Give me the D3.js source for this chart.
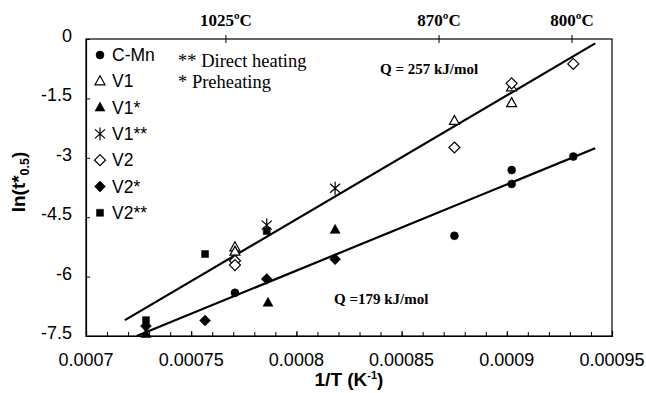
<!DOCTYPE html>
<html>
  <head>
    <meta charset="utf-8">
    <script src="https://d3js.org/d3.v7.min.js"></script>
    <style>
      body { margin: 0; background: #fff; }
      svg { display: block; }
      .domain { stroke: #000; stroke-width: 1.2; }
      .tick line { stroke: #000; stroke-width: 1; }
      .tick-label { fill: #000; font-size: 18px; font-family: "Liberation Sans", Arial, sans-serif; }
      .axis-label { fill: #000; font-size: 19px; font-weight: bold; font-family: "Liberation Sans", Arial, sans-serif; }
      .serif { fill: #000; font-family: "Liberation Serif", "Times New Roman", serif; }
      .legend text { font-size: 17.5px; font-family: "Liberation Sans", Arial, sans-serif; }
    </style>
  </head>
  <body>
    <svg width="646" height="393"></svg>
    <script>
      // data: [1/T, ln(t*0.5)]
      const cMn  = [[0.0007708, -6.41], [0.0008751, -4.97], [0.0009023, -3.31], [0.0009023, -3.66], [0.0009316, -2.97]];
      const v1   = [[0.0007708, -5.26], [0.0007708, -5.37], [0.0008751, -2.07], [0.0009023, -1.22], [0.0009023, -1.62]];
      const v1s  = [[0.0007285, -7.45], [0.0007865, -6.66], [0.0008184, -4.82]];
      const v1ss = [[0.0007859, -4.70], [0.0008184, -3.77]];
      const v2   = [[0.0007708, -5.60], [0.0007708, -5.71], [0.0008751, -2.74], [0.0009023, -1.12], [0.0009316, -0.63]];
      const v2s  = [[0.0007285, -7.25], [0.0007566, -7.11], [0.0007859, -6.06], [0.0008184, -5.56]];
      const v2ss = [[0.0007285, -7.10], [0.0007566, -5.43], [0.0007859, -4.85]];

      // fitted lines (end points)
      const fitUpper = [[0.0007185, -7.10], [0.000942, -0.11]];
      const fitLower = [[0.0007241, -7.50], [0.000942, -2.76]];

      const yTicks = [0, -1.5, -3, -4.5, -6, -7.5];
      const xTicks = [0.0007, 0.00075, 0.0008, 0.00085, 0.0009, 0.00095];
      const topTickVals = [0.0007665, 0.0008678, 0.000931];
      const topTickLabels = ['1025ºC', '870ºC', '800ºC'];

      const series = [
        { name: 'C-Mn', data: cMn, shape: 'circle', filled: true },
        { name: 'V1', data: v1, shape: 'triangle', filled: false },
        { name: 'V1*', data: v1s, shape: 'triangle', filled: true },
        { name: 'V1**', data: v1ss, shape: 'asterisk', filled: false },
        { name: 'V2', data: v2, shape: 'diamond', filled: false },
        { name: 'V2*', data: v2s, shape: 'diamond', filled: true },
        { name: 'V2**', data: v2ss, shape: 'square', filled: true }
      ];

      const margin = { left: 86, right: 34, top: 39, bottom: 57 };
      const svg = d3.select('svg');
      const width = +svg.attr('width');
      const height = +svg.attr('height');
      const innerWidth = width - margin.left - margin.right;
      const innerHeight = height - margin.top - margin.bottom;

      const xScale = d3.scaleLinear().domain([0.0007, 0.00095]).range([0, innerWidth]);
      const yScale = d3.scaleLinear().domain([-7.5, 0]).range([innerHeight, 0]);

      const g = svg.append('g')
          .attr('transform', `translate(${margin.left},${margin.top})`);

      // marker shapes, drawn around 0,0
      function markerPath(shape) {
        const p = d3.path();
        if (shape === 'circle') {
          p.arc(0, 0, 4, 0, 2 * Math.PI);
        } else if (shape === 'triangle') {
          p.moveTo(0, -5.5); p.lineTo(5, 3.5); p.lineTo(-5, 3.5); p.closePath();
        } else if (shape === 'diamond') {
          p.moveTo(0, -5.5); p.lineTo(5.5, 0); p.lineTo(0, 5.5); p.lineTo(-5.5, 0); p.closePath();
        } else if (shape === 'square') {
          p.rect(-3.5, -3.5, 7, 7);
        } else if (shape === 'asterisk') {
          p.moveTo(0, -6.5); p.lineTo(0, 6.5);
          p.moveTo(-5, -4.5); p.lineTo(5, 4.5);
          p.moveTo(-5, 4.5); p.lineTo(5, -4.5);
        }
        return p.toString();
      }
      function styleMarker(sel, s) {
        sel.attr('d', markerPath(s.shape))
          .attr('fill', s.shape === 'asterisk' ? 'none' : (s.filled ? '#000' : '#fff'))
          .attr('stroke', '#000')
          .attr('stroke-width', s.filled ? 0.5 : 1.2);
      }

      // frame
      g.append('rect')
          .attr('width', innerWidth)
          .attr('height', innerHeight)
          .attr('fill', 'none')
          .attr('stroke', '#000')
          .attr('stroke-width', 1.2);

      // bottom axis: minor ticks, major ticks
      g.append('g')
          .attr('transform', `translate(0,${innerHeight})`)
          .call(d3.axisBottom(xScale).ticks(25).tickSize(-4).tickFormat(''))
          .call(a => a.select('.domain').remove())
          .call(a => a.selectAll('.tick text').remove());
      g.append('g')
          .attr('transform', `translate(0,${innerHeight})`)
          .call(d3.axisBottom(xScale).tickValues(xTicks).tickSize(-5).tickFormat(''))
          .call(a => a.selectAll('.tick text').remove());

      // left axis
      g.append('g')
          .call(d3.axisLeft(yScale).tickValues(yTicks).tickSize(-4).tickFormat(''))
          .call(a => a.selectAll('.tick text').remove());

      // tick labels
      g.append('g').selectAll('text').data(xTicks)
        .enter().append('text')
          .attr('class', 'tick-label')
          .attr('x', d => xScale(d))
          .attr('y', innerHeight + 30)
          .attr('text-anchor', 'middle')
          .text(d => String(d));
      g.append('g').selectAll('text').data(yTicks)
        .enter().append('text')
          .attr('class', 'tick-label')
          .attr('x', -14)
          .attr('y', d => yScale(d) + 3)
          .attr('text-anchor', 'end')
          .text(d => String(d));

      // top axis (temperatures)
      const topG = g.append('g');
      topG.selectAll('line').data(topTickVals)
        .enter().append('line')
          .attr('x1', d => xScale(d)).attr('x2', d => xScale(d))
          .attr('y1', -4).attr('y2', 4)
          .attr('stroke', '#000');
      topG.selectAll('text').data(topTickVals)
        .enter().append('text')
          .attr('class', 'serif')
          .attr('x', d => xScale(d))
          .attr('y', -13)
          .attr('text-anchor', 'middle')
          .style('font-size', '17px')
          .style('font-weight', 'bold')
          .text((d, i) => topTickLabels[i]);

      // fitted lines
      const line = d3.line().x(d => xScale(d[0])).y(d => yScale(d[1]));
      [fitUpper, fitLower].forEach(f => {
        g.append('path')
            .attr('d', line(f))
            .attr('fill', 'none')
            .attr('stroke', '#000')
            .attr('stroke-width', 2.2);
      });

      // points
      series.forEach(s => {
        g.append('g').selectAll('path').data(s.data)
          .enter().append('path')
            .attr('transform', d => `translate(${xScale(d[0])},${yScale(d[1])})`)
            .call(sel => styleMarker(sel, s));
      });

      // legend
      const legend = svg.append('g').attr('class', 'legend')
          .attr('transform', 'translate(100,55)');
      series.forEach((s, i) => {
        const row = legend.append('g').attr('transform', `translate(0,${i * 26.3})`);
        row.append('path').call(sel => styleMarker(sel, s));
        row.append('text').attr('x', 12).attr('y', 6).text(s.name);
      });

      // notes
      const notes = svg.append('g').attr('class', 'serif').style('font-size', '18.5px');
      notes.append('text').attr('x', 178).attr('y', 67).text('** Direct heating');
      notes.append('text').attr('x', 178).attr('y', 88).text('* Preheating');

      svg.append('text').attr('class', 'serif')
          .attr('x', 380).attr('y', 74)
          .style('font-size', '15px').style('font-weight', 'bold')
          .text('Q = 257 kJ/mol');
      svg.append('text').attr('class', 'serif')
          .attr('x', 334).attr('y', 304)
          .style('font-size', '15px').style('font-weight', 'bold')
          .text('Q =179 kJ/mol');

      // axis titles
      const xt = svg.append('text')
          .attr('class', 'axis-label')
          .attr('x', margin.left + innerWidth / 2)
          .attr('y', 386)
          .attr('text-anchor', 'middle');
      xt.append('tspan').text('1/T (K');
      xt.append('tspan').attr('dy', -7).style('font-size', '11px').text('-1');
      xt.append('tspan').attr('dy', 7).text(')');

      const yt = svg.append('text')
          .attr('class', 'axis-label')
          .attr('transform', 'rotate(-90)')
          .attr('x', -182)
          .attr('y', 25)
          .attr('text-anchor', 'middle');
      yt.append('tspan').text('ln(t*');
      yt.append('tspan').attr('dy', 4).style('font-size', '12.5px').text('0.5');
      yt.append('tspan').attr('dy', -4).text(')');
    </script>
  </body>
</html>
